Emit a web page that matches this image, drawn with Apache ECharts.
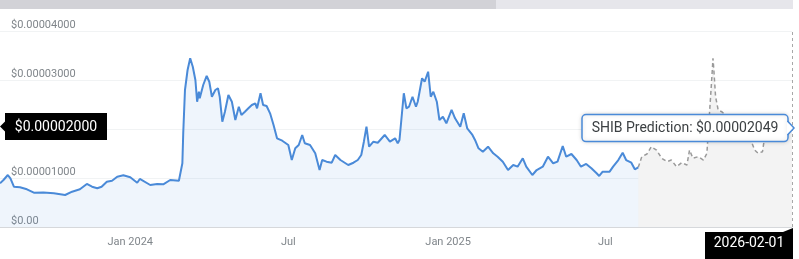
<!DOCTYPE html>
<html><head><meta charset="utf-8">
<script src="https://cdn.jsdelivr.net/npm/echarts@6/dist/echarts.min.js"></script>
<style>html,body{margin:0;padding:0;background:#fff;overflow:hidden}#c{width:799px;height:259px}</style>
</head><body><div id="c"></div>
<script>
// ---- data ----
const histDates = ['2023-08-04','2023-08-08','2023-08-13','2023-08-16','2023-08-20','2023-08-27','2023-09-04','2023-09-12','2023-09-23','2023-10-05','2023-10-18','2023-10-26','2023-11-04','2023-11-12','2023-11-18','2023-11-24','2023-11-29','2023-12-05','2023-12-11','2023-12-17','2023-12-24','2024-01-01','2024-01-09','2024-01-12','2024-01-24','2024-02-01','2024-02-08','2024-02-16','2024-02-26','2024-03-01','2024-03-02','2024-03-04','2024-03-07','2024-03-10','2024-03-13','2024-03-16','2024-03-18','2024-03-20','2024-03-21','2024-03-25','2024-03-29','2024-04-01','2024-04-04','2024-04-08','2024-04-11','2024-04-13','2024-04-16','2024-04-19','2024-04-23','2024-04-27','2024-05-01','2024-05-05','2024-05-08','2024-05-12','2024-05-16','2024-05-20','2024-05-24','2024-05-26','2024-05-30','2024-06-02','2024-06-06','2024-06-10','2024-06-14','2024-06-18','2024-06-24','2024-07-01','2024-07-05','2024-07-09','2024-07-13','2024-07-17','2024-07-20','2024-07-26','2024-08-01','2024-08-06','2024-08-09','2024-08-14','2024-08-20','2024-08-24','2024-08-30','2024-09-08','2024-09-14','2024-09-19','2024-09-23','2024-09-26','2024-09-29','2024-10-02','2024-10-07','2024-10-12','2024-10-20','2024-10-26','2024-11-01','2024-11-04','2024-11-06','2024-11-11','2024-11-14','2024-11-17','2024-11-21','2024-11-25','2024-11-27','2024-12-02','2024-12-05','2024-12-09','2024-12-12','2024-12-15','2024-12-19','2024-12-22','2024-12-26','2024-12-30','2025-01-05','2025-01-09','2025-01-15','2025-01-19','2025-01-23','2025-01-29','2025-02-01','2025-02-05','2025-02-10','2025-02-16','2025-02-22','2025-02-27','2025-03-05','2025-03-11','2025-03-17','2025-03-22','2025-03-28','2025-04-01','2025-04-08','2025-04-13','2025-04-20','2025-04-26','2025-05-02','2025-05-07','2025-05-13','2025-05-17','2025-05-23','2025-05-29','2025-06-03','2025-06-09','2025-06-15','2025-06-21','2025-06-24','2025-06-28','2025-07-06','2025-07-10','2025-07-16','2025-07-21','2025-07-25','2025-07-31','2025-08-04','2025-08-08'];
const histValues = [0.892e-5,0.959e-5,1.061e-5,0.994e-5,0.822e-5,0.810e-5,0.769e-5,0.700e-5,0.705e-5,0.688e-5,0.653e-5,0.720e-5,0.769e-5,0.878e-5,0.822e-5,0.790e-5,0.822e-5,0.924e-5,0.945e-5,1.027e-5,1.055e-5,1.014e-5,0.904e-5,0.980e-5,0.857e-5,0.878e-5,0.871e-5,0.959e-5,0.945e-5,1.300e-5,1.912e-5,2.796e-5,3.204e-5,3.443e-5,3.271e-5,3.000e-5,2.557e-5,2.761e-5,2.627e-5,2.898e-5,3.082e-5,2.965e-5,2.659e-5,2.796e-5,2.831e-5,2.659e-5,2.149e-5,2.353e-5,2.694e-5,2.557e-5,2.184e-5,2.455e-5,2.286e-5,2.353e-5,2.422e-5,2.490e-5,2.524e-5,2.422e-5,2.729e-5,2.490e-5,2.470e-5,2.320e-5,2.082e-5,1.810e-5,1.761e-5,1.673e-5,1.367e-5,1.606e-5,1.673e-5,1.878e-5,1.708e-5,1.673e-5,1.504e-5,1.163e-5,1.367e-5,1.333e-5,1.312e-5,1.469e-5,1.367e-5,1.265e-5,1.312e-5,1.367e-5,1.469e-5,1.741e-5,2.047e-5,1.639e-5,1.741e-5,1.720e-5,1.878e-5,1.741e-5,1.810e-5,1.708e-5,1.776e-5,2.729e-5,2.422e-5,2.455e-5,2.659e-5,2.455e-5,2.557e-5,3.035e-5,2.965e-5,3.169e-5,2.659e-5,2.761e-5,2.557e-5,2.184e-5,2.251e-5,2.116e-5,2.388e-5,2.218e-5,2.047e-5,2.320e-5,2.014e-5,1.878e-5,1.776e-5,1.606e-5,1.537e-5,1.639e-5,1.504e-5,1.435e-5,1.333e-5,1.163e-5,1.265e-5,1.231e-5,1.402e-5,1.231e-5,1.061e-5,1.163e-5,1.231e-5,1.435e-5,1.300e-5,1.333e-5,1.653e-5,1.435e-5,1.490e-5,1.367e-5,1.231e-5,1.286e-5,1.198e-5,1.096e-5,1.041e-5,1.129e-5,1.129e-5,1.231e-5,1.367e-5,1.516e-5,1.367e-5,1.312e-5,1.178e-5,1.218e-5];
const predDates = ['2025-08-08','2025-08-12','2025-08-18','2025-08-23','2025-08-29','2025-09-04','2025-09-10','2025-09-15','2025-09-21','2025-09-27','2025-10-03','2025-10-06','2025-10-10','2025-10-16','2025-10-22','2025-10-26','2025-10-29','2025-11-01','2025-11-02','2025-11-03','2025-11-05','2025-11-08','2025-11-12','2025-11-21','2025-12-02','2025-12-12','2025-12-16','2025-12-20','2025-12-24','2025-12-29','2025-12-31','2026-01-08','2026-01-18','2026-02-01'];
const predValues = [1.218e-5,1.435e-5,1.490e-5,1.639e-5,1.571e-5,1.402e-5,1.333e-5,1.367e-5,1.231e-5,1.312e-5,1.265e-5,1.571e-5,1.402e-5,1.435e-5,1.367e-5,1.504e-5,2.320e-5,3.137e-5,3.443e-5,3.204e-5,2.659e-5,2.388e-5,2.353e-5,2.224e-5,2.143e-5,2.020e-5,1.755e-5,1.571e-5,1.504e-5,1.537e-5,1.776e-5,2.020e-5,2.143e-5,2.049e-5];
const yTicks = [0, 0.00001, 0.00002, 0.00003, 0.00004];
const xTickDates = ['2024-01-01','2024-07-01','2025-01-01','2025-07-01'];
const xTickLabels = ['Jan 2024','Jul','Jan 2025','Jul'];
const xRange = ['2023-08-04','2026-02-01'];
const seriesName = 'SHIB Prediction';
const pointerYText = '$0.00002000';

// ---- chart ----
const FONT = 'Roboto, "Noto Sans", sans-serif';
const chart = echarts.init(document.getElementById('c'), null, {renderer: 'canvas'});
const ts = s => +echarts.time.parse(s);
const hist = histDates.map((d, i) => [d, histValues[i]]);
const pred = predDates.map((d, i) => [d, predValues[i]]);
const lastDate = predDates[predDates.length - 1];
const lastVal = predValues[predValues.length - 1];
const tickTs = xTickDates.map(ts);

chart.setOption({
  animation: false,
  grid: {left: 0, right: 7, top: 31, bottom: 32, containLabel: false},
  xAxis: [{
    type: 'time', z: 10,
    min: xRange[0], max: xRange[1],
    axisLine: {show: true, lineStyle: {color: '#d6d8db', width: 1}},
    axisTick: {show: false},
    splitLine: {show: false},
    axisLabel: {show: false}
  }, {
    // label-only axis sharing the same time span
    type: 'value', position: 'bottom',
    min: ts(xRange[0]), max: ts(xRange[1]),
    axisLine: {show: false}, axisTick: {show: false}, splitLine: {show: false},
    axisLabel: {
      customValues: tickTs,
      margin: 10,
      color: '#80868b', fontSize: 11, fontFamily: FONT,
      formatter: v => xTickLabels[tickTs.indexOf(v)] || ''
    }
  }],
  yAxis: {
    type: 'value',
    min: yTicks[0], max: yTicks[yTicks.length - 1], interval: yTicks[1] - yTicks[0],
    axisLine: {show: false}, axisTick: {show: false},
    splitLine: {show: true, lineStyle: {color: '#f1f3f4', width: 1}},
    axisLabel: {
      inside: true, margin: 11, verticalAlign: 'bottom',
      color: '#80868b', fontSize: 11, fontFamily: FONT,
      formatter: v => v === 0 ? '$0.00' : '$' + v.toFixed(8)
    }
  },
  series: [
    {
      name: 'SHIB Price', type: 'line', data: hist, showSymbol: false, symbol: 'none',
      lineStyle: {color: '#4a8ad8', width: 2}, itemStyle: {color: '#4a8ad8'},
      areaStyle: {color: 'rgba(74,138,216,0.12)'}, z: 3
    },
    {
      name: seriesName, type: 'line', data: pred, showSymbol: false, symbol: 'none',
      lineStyle: {color: '#9a9a9a', width: 1.5, type: [4, 3]}, itemStyle: {color: '#9a9a9a'},
      areaStyle: {color: '#f3f3f3', opacity: 1}, z: 2
    },
    {
      name: 'crosshair', type: 'line', data: [], silent: true, z: 4,
      markLine: {
        silent: true, symbol: 'none', animation: false,
        label: {show: false},
        lineStyle: {color: '#a8a8a8', width: 1, type: [3, 3]},
        data: [{yAxis: lastVal}, {xAxis: lastDate}]
      }
    }
  ]
});

const p = chart.convertToPixel({xAxisIndex: 0, yAxisIndex: 0}, [lastDate, lastVal]);
const ax = p[0], ay = p[1];
const gridBottom = chart.convertToPixel({yAxisIndex: 0}, 0);
const blue = '#4a8ad8';
chart.setOption({
  graphic: [
    {type: 'rect', shape: {x: 0, y: 0, width: 496, height: 9}, style: {fill: '#d2d2d7'}, z: 100},
    {type: 'rect', shape: {x: 496, y: 0, width: 297, height: 9}, style: {fill: '#e6e6eb'}, z: 100},
    {type: 'polygon', shape: {points: [[0, ay], [6, ay - 6], [6, ay + 6]]}, style: {fill: '#000'}, z: 100},
    {type: 'rect', shape: {x: 5, y: ay - 13.5, width: 102, height: 27}, style: {fill: '#000'}, z: 100},
    {type: 'text', x: 56, y: ay + 0.5, style: {text: pointerYText, fill: '#fff', font: '14px ' + FONT, align: 'center', verticalAlign: 'middle'}, z: 101},
    {type: 'polygon', shape: {points: [[783, gridBottom + 5], [ax + 1, gridBottom + 1], [ax + 1, gridBottom + 5]]}, style: {fill: '#000'}, z: 100},
    {type: 'rect', shape: {x: 705, y: gridBottom + 5, width: ax + 1 - 705, height: 30}, style: {fill: '#000'}, z: 100},
    {type: 'text', x: (705 + ax + 1) / 2, y: gridBottom + 16.5, style: {text: lastDate, fill: '#fff', font: '14px ' + FONT, align: 'center', verticalAlign: 'middle'}, z: 101},
    {type: 'rect', shape: {x: ax - 210, y: ay - 12, width: 206, height: 27, r: 4},
      style: {fill: '#fff', stroke: blue, lineWidth: 1.5, shadowBlur: 4, shadowColor: 'rgba(0,0,0,0.15)'}, z: 100},
    {type: 'polygon', shape: {points: [[ax - 5, ay - 5], [ax + 2, ay + 1.5], [ax - 5, ay + 8]]}, style: {fill: '#fff'}, z: 101},
    {type: 'polyline', shape: {points: [[ax - 4.5, ay - 5.5], [ax + 2, ay + 1.5], [ax - 4.5, ay + 8.5]]}, style: {stroke: blue, lineWidth: 1.5, fill: null}, z: 101},
    {type: 'text', x: ax - 107, y: ay + 1.5, style: {text: seriesName + ': $' + lastVal.toFixed(8), fill: '#3c4043', font: '14px ' + FONT, align: 'center', verticalAlign: 'middle'}, z: 102}
  ]
});
</script>
</body></html>
